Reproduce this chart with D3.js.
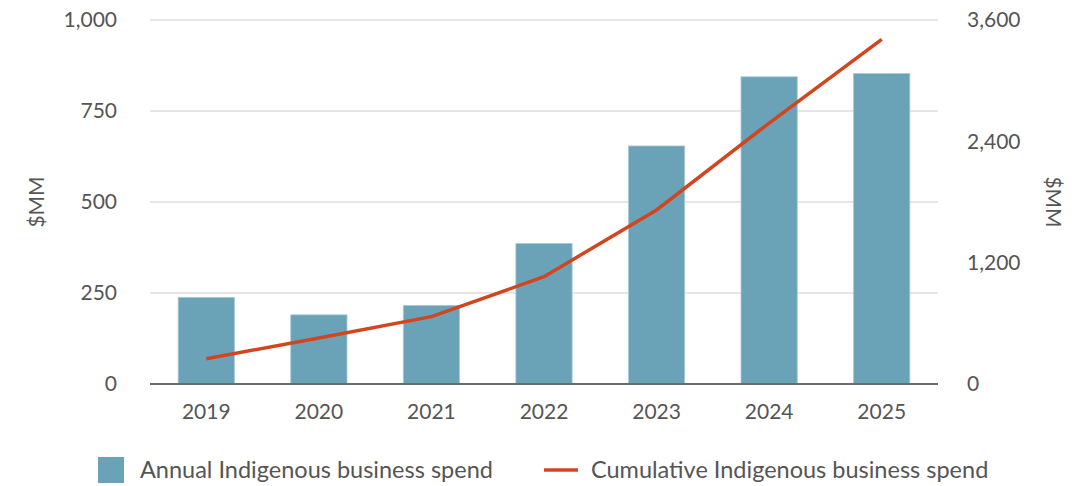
<!DOCTYPE html>
<html>
<head>
<meta charset="utf-8">
<script src="https://cdn.jsdelivr.net/npm/d3@7"></script>
<style>
  body { margin: 0; background: #fff; }
  text { font-family: Lato, "Open Sans", sans-serif; fill: #555; }
</style>
</head>
<body>
<div id="chart"></div>
<script>
// data
var years = ["2019", "2020", "2021", "2022", "2023", "2024", "2025"];
var annual = [238, 190, 216, 386, 654, 844, 853];
var cumulative = [250, 455, 666, 1061, 1721, 2581, 3409];
var leftTicks = [0, 250, 500, 750, 1000];
var rightTicks = [0, 1200, 2400, 3600];

var W = 1082, H = 486;
var margin = {top: 20, right: 144, bottom: 102, left: 150},
    width = W - margin.left - margin.right,
    height = H - margin.top - margin.bottom;

var svg = d3.select("#chart")
  .append("svg")
    .attr("width", W)
    .attr("height", H);

var g = svg.append("g")
    .attr("transform", "translate(" + margin.left + "," + margin.top + ")");

var x = d3.scaleBand()
  .domain(years)
  .range([0, width])
  .paddingInner(0.5)
  .paddingOuter(0.25);

var y = d3.scaleLinear()
  .domain([0, 1000])
  .range([height, 0]);

var y2 = d3.scaleLinear()
  .domain([0, 3600])
  .range([height, 0]);

var fmt = d3.format(",");

// gridlines
g.append("g")
  .selectAll("line")
  .data(leftTicks.filter(function(d) { return d > 0; }))
  .enter()
  .append("line")
    .attr("x1", 0)
    .attr("x2", width)
    .attr("y1", function(d) { return y(d); })
    .attr("y2", function(d) { return y(d); })
    .attr("stroke", "#e6e6e6")
    .attr("stroke-width", 2);

// bars
g.append("g")
  .selectAll("rect")
  .data(annual)
  .enter()
  .append("rect")
    .attr("x", function(d, i) { return x(years[i]); })
    .attr("y", function(d) { return y(d); })
    .attr("width", x.bandwidth())
    .attr("height", function(d) { return height - y(d); })
    .attr("fill", "#6aa3b8")
    .attr("stroke", "#a9cbd8")
    .attr("stroke-width", 0.8);

// baseline
g.append("line")
  .attr("x1", 0)
  .attr("x2", width)
  .attr("y1", height)
  .attr("y2", height)
  .attr("stroke", "#6b6b6b")
  .attr("stroke-width", 2);

// cumulative line
g.append("path")
  .datum(cumulative)
  .attr("fill", "none")
  .attr("stroke", "#d1461f")
  .attr("stroke-width", 3.5)
  .attr("d", d3.line()
    .x(function(d, i) { return x(years[i]) + x.bandwidth() / 2; })
    .y(function(d) { return y2(d); }));

// left axis
var left = g.append("g")
  .call(d3.axisLeft(y).tickValues(leftTicks).tickFormat(fmt).tickSize(0).tickPadding(33));
left.select(".domain").remove();
left.selectAll("text").style("font-size", "21px").attr("dy", "0.32em");

// right axis
var right = g.append("g")
  .attr("transform", "translate(" + width + ",0)")
  .call(d3.axisRight(y2).tickValues(rightTicks).tickFormat(fmt).tickSize(0).tickPadding(29));
right.select(".domain").remove();
right.selectAll("text").style("font-size", "21px").attr("dy", "0.32em");

// bottom axis
var bottom = g.append("g")
  .attr("transform", "translate(0," + height + ")")
  .call(d3.axisBottom(x).tickSize(0).tickPadding(20));
bottom.select(".domain").remove();
bottom.selectAll("text").style("font-size", "21px");

// axis titles
svg.append("text")
  .attr("transform", "translate(44," + (margin.top + y(500)) + ") rotate(-90)")
  .attr("text-anchor", "middle")
  .style("font-size", "21px")
  .text("$MM");

svg.append("text")
  .attr("transform", "translate(1046," + (margin.top + y(500)) + ") rotate(90)")
  .attr("text-anchor", "middle")
  .style("font-size", "21px")
  .text("$MM");

// legend
var legend = svg.append("g").attr("transform", "translate(0,470)");
legend.append("rect")
  .attr("x", 98).attr("y", -13)
  .attr("width", 26).attr("height", 26)
  .attr("fill", "#6aa3b8");
legend.append("text")
  .attr("x", 140).attr("y", 0).attr("dy", "0.35em")
  .style("font-size", "23.5px")
  .text("Annual Indigenous business spend");
legend.append("line")
  .attr("x1", 544).attr("x2", 578)
  .attr("y1", 0).attr("y2", 0)
  .attr("stroke", "#d1461f")
  .attr("stroke-width", 3.5);
legend.append("text")
  .attr("x", 591).attr("y", 0).attr("dy", "0.35em")
  .style("font-size", "23.5px")
  .text("Cumulative Indigenous business spend");
</script>
</body>
</html>
